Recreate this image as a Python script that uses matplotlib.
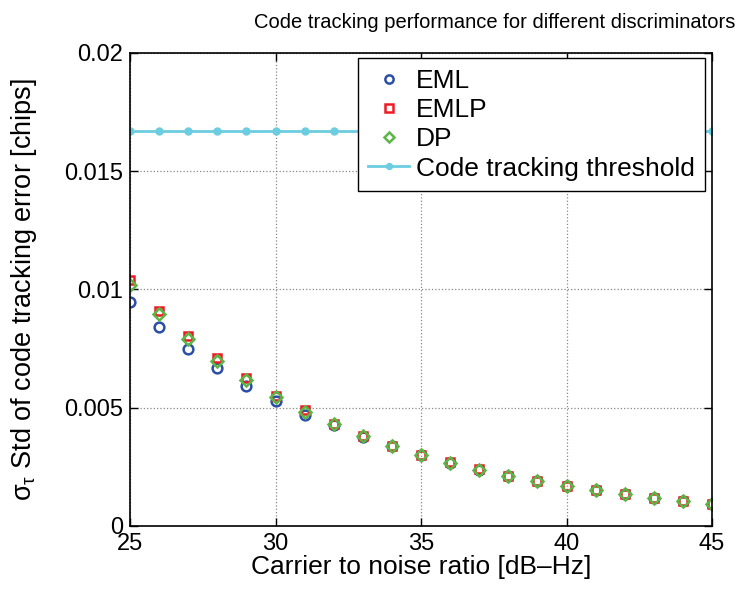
import matplotlib
matplotlib.use('Agg')  # Headless mode
import matplotlib.pyplot as plt
from matplotlib.ticker import FuncFormatter

plt.rcParams['font.family'] = ['Liberation Sans', 'DejaVu Sans']
plt.rcParams['mathtext.fontset'] = 'custom'
plt.rcParams['mathtext.rm'] = 'Liberation Sans'
plt.rcParams['mathtext.it'] = 'Liberation Sans'

# Carrier to noise ratio [dB-Hz]
cn0 = list(range(25, 46))

# Std of code tracking error [chips]
eml = [0.00946, 0.00843, 0.0075, 0.00667, 0.0059, 0.00528, 0.00469, 0.00427,
       0.00378, 0.00338, 0.00299, 0.00268, 0.00238, 0.00211, 0.00189, 0.00169,
       0.00151, 0.00134, 0.00118, 0.00106, 0.00094]
emlp = [0.0104, 0.0091, 0.00803, 0.00709, 0.00627, 0.0055, 0.0049, 0.00432,
        0.00382, 0.0034, 0.00301, 0.00269, 0.00239, 0.00212, 0.0019, 0.0017,
        0.00152, 0.00135, 0.00119, 0.00107, 0.00095]
dp = [0.0102, 0.00896, 0.0079, 0.00698, 0.00617, 0.00544, 0.00482, 0.0043,
      0.0038, 0.00339, 0.003, 0.00268, 0.00238, 0.00211, 0.00189, 0.00169,
      0.00151, 0.00134, 0.00118, 0.00106, 0.00094]
threshold = [0.0167] * 21

xticks = [25, 30, 35, 40, 45]
yticks = [0, 0.005, 0.01, 0.015, 0.02]


def main():
    fig = plt.figure(figsize=(7.49, 5.9), dpi=100)
    ax = fig.add_axes([0.1736, 0.1085, 0.7770, 0.8017])

    ax.plot(cn0, eml, linestyle='none', marker='o', markersize=7,
            markerfacecolor='none', markeredgecolor='#2b4ea6', markeredgewidth=1.8,
            label='EML')
    ax.plot(cn0, emlp, linestyle='none', marker='s', markersize=6,
            markerfacecolor='none', markeredgecolor='#ec1c24', markeredgewidth=1.8,
            label='EMLP')
    ax.plot(cn0, dp, linestyle='none', marker='D', markersize=6,
            markerfacecolor='none', markeredgecolor='#5cb646', markeredgewidth=1.8,
            label='DP')
    ax.plot(cn0, threshold, color='#6ccde0', linewidth=2, marker='o',
            markersize=5, label='Code tracking threshold')

    ax.set_xlim(25, 45)
    ax.set_ylim(0, 0.02)
    ax.set_xticks(xticks)
    ax.set_yticks(yticks)
    ax.yaxis.set_major_formatter(FuncFormatter(lambda v, p: '%g' % v))
    ax.tick_params(direction='in', top=True, right=True, labelsize=17,
                   length=6, width=1, pad=5)
    ax.grid(True, linestyle=':', color='#888888', linewidth=0.9)
    for s in ax.spines.values():
        s.set_linewidth(1.2)

    ax.set_xlabel('Carrier to noise ratio [dB\u2013Hz]', fontsize=19, labelpad=0)
    ax.set_ylabel(r'$\sigma_\tau$ Std of code tracking error [chips]',
                  fontsize=19.5, labelpad=18)
    fig.text(0.661, 0.962, 'Code tracking performance for different discriminators',
             fontsize=14.5, ha='center', va='center')

    leg = ax.legend(loc='upper right', bbox_to_anchor=(0.988, 0.989),
                    borderaxespad=0, fontsize=19, fancybox=False,
                    framealpha=1, edgecolor='black', handlelength=1.55,
                    labelspacing=0.2, borderpad=0.4, handletextpad=0.25,
                    markerscale=0.85)
    leg.get_frame().set_linewidth(1.0)

    fig.savefig('out.png', dpi=100)
    plt.close(fig)


if __name__ == "__main__":
    main()
